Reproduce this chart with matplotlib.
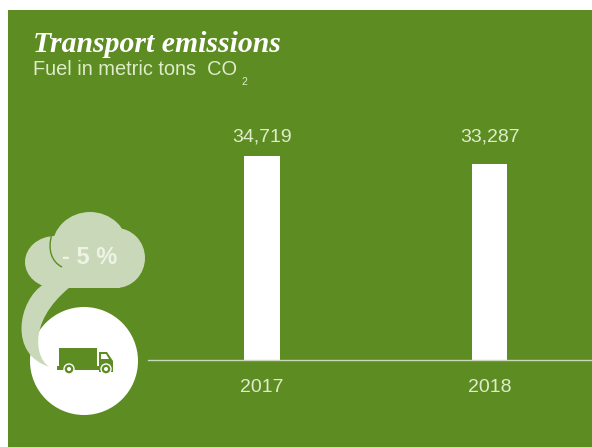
import matplotlib
matplotlib.use('Agg')
import matplotlib.pyplot as plt
from matplotlib.patches import Circle, Ellipse, PathPatch, Rectangle, Polygon
from matplotlib.path import Path

years = ['2017', '2018']
values = [34719, 33287]
value_labels = ['34,719', '33,287']

GREEN = '#5c8c22'
PALE = '#c9d8b8'
TEXT = '#dfeccb'
W, H = 592, 447

plt.rcParams['font.family'] = ['Liberation Sans', 'DejaVu Sans']

fig = plt.figure(figsize=(W / 100, H / 100), dpi=100, facecolor='white')

# overlay in pixel coordinates for panel and icon
bg = fig.add_axes([0, 0, 1, 1])
bg.set_xlim(0, W)
bg.set_ylim(H, 0)
bg.axis('off')
bg.add_patch(Rectangle((8, 10), W - 8, H - 10, fc=GREEN, ec='none'))

# bars
ax = fig.add_axes([148 / W, 1 - 360 / H, (W - 148) / W, 260 / H])
ax.patch.set_alpha(0)
x = [0, 1]
bars = ax.bar(x, values, width=0.157, color='white')
ax.set_xlim(-0.501, 1.45)
ax.set_ylim(0, 44249)
ax.set_xticks(x, years)
ax.set_yticks([])
ax.tick_params(axis='x', length=0, pad=14, labelsize=14, labelcolor=TEXT)
for s in ['top', 'left', 'right']:
    ax.spines[s].set_visible(False)
ax.spines['bottom'].set_color(PALE)
ax.spines['bottom'].set_linewidth(1)

# both value labels sit on the same line in the original
for xi, lab in zip(x, value_labels):
    ax.text(xi, 0.842, lab, transform=ax.get_xaxis_transform(), ha='center', va='baseline',
            fontsize=14, color=TEXT)

# titles
bg.text(33, 52, 'Transport emissions', family=['Liberation Serif', 'DejaVu Serif'],
        style='italic', weight='bold', fontsize=21.4, color='white', va='baseline')
bg.text(33, 75, 'Fuel in metric tons  CO', fontsize=14.4, color=TEXT, va='baseline')
bg.text(241, 85, '2', fontsize=7.5, color=TEXT, va='baseline')

# cloud
for cx, cy, rx, ry in [(55, 262, 30, 26), (90, 248, 38, 36), (116, 258, 29, 30)]:
    bg.add_patch(Ellipse((cx, cy), rx * 2, ry * 2, fc=PALE, ec='none'))
bg.add_patch(Rectangle((55, 262), 65, 26, fc=PALE, ec='none'))

# truck circle
bg.add_patch(Circle((84, 361), 54, fc='white', ec='none'))

# tail of cloud
tail = Path([(44, 284), (18, 300), (8, 355), (50, 367),
             (38, 362), (24, 325), (70, 287), (44, 284)],
            [Path.MOVETO, Path.CURVE4, Path.CURVE4, Path.CURVE4,
             Path.CURVE4, Path.CURVE4, Path.CURVE4, Path.CLOSEPOLY])
bg.add_patch(PathPatch(tail, fc=PALE, ec='none'))

# fold line in the cloud
fold = Path([(52, 234), (47, 250), (52, 262), (62, 267)],
            [Path.MOVETO, Path.CURVE4, Path.CURVE4, Path.CURVE4])
bg.add_patch(PathPatch(fold, fc='none', ec=GREEN, lw=1))

bg.text(90, 257, '- 5 %', fontsize=17, weight='bold', color='#eef3e4', ha='center', va='center')

# truck
bg.add_patch(Rectangle((59, 348), 38, 21, fc=GREEN, ec='none'))
bg.add_patch(Rectangle((57, 366), 56, 4, fc=GREEN, ec='none'))
bg.add_patch(Polygon([(99, 352), (107, 352), (113, 361), (113, 372), (99, 372)], fc=GREEN, ec='none'))
bg.add_patch(Polygon([(101, 354), (106, 354), (109, 359), (101, 359)], fc='white', ec='none'))
for cx in [69, 106]:
    bg.add_patch(Circle((cx, 369), 5, fc=GREEN, ec='white', lw=1))
    bg.add_patch(Circle((cx, 369), 2, fc='white', ec='none'))

fig.savefig('out.png', dpi=100)
